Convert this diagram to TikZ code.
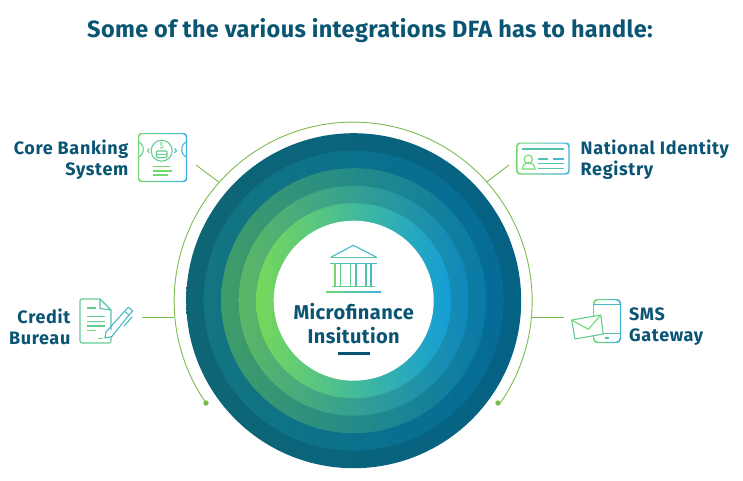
\documentclass[tikz,border=0pt]{standalone}
\usepackage{fontspec}
\setmainfont{Fira Sans}
\usepackage{xcolor}
\usetikzlibrary{positioning,calc}
\definecolor{textblue}{HTML}{0A5474}
\definecolor{arcgreen}{HTML}{7CBB4E}
\definecolor{icongreen}{HTML}{72D96E}
\definecolor{iconblue}{HTML}{3FB0DF}
\definecolor{ringal}{HTML}{0E6574}
\definecolor{ringar}{HTML}{046285}
\definecolor{ringbl}{HTML}{127580}
\definecolor{ringbr}{HTML}{056C98}
\definecolor{ringcl}{HTML}{409C68}
\definecolor{ringcr}{HTML}{097AA8}
\definecolor{ringdl}{HTML}{5CB766}
\definecolor{ringdr}{HTML}{0F88BC}
\definecolor{ringel}{HTML}{76D85A}
\definecolor{ringer}{HTML}{139DD8}

\begin{document}
\begin{tikzpicture}[x=1pt, y=-1pt]
  % Define styles
  \tikzstyle{ring} = [circle, inner sep=0pt, outer sep=0pt]
  \tikzstyle{label} = [font=\fontsize{18}{21}\selectfont\bfseries\addfontfeature{LetterSpace=3.6}, text=textblue, inner sep=0pt]
  \tikzstyle{connector} = [arcgreen, line width=0.9pt]
  \tikzstyle{frame} = [even odd rule, left color=icongreen, right color=iconblue]
  \tikzstyle{icona} = [color=icongreen, line width=1.1pt]
  \tikzstyle{iconb} = [color=iconblue!30!icongreen, line width=1.1pt]
  \tikzstyle{iconc} = [color=iconblue!55!icongreen, line width=1.1pt]
  \tikzstyle{icond} = [color=iconblue!80!icongreen, line width=1.1pt]
  \useasboundingbox (0,0) rectangle (743,480);

  % Title
  \node [anchor=base, font=\fontsize{23.5}{27}\selectfont\bfseries\addfontfeature{LetterSpace=1.5}, text=textblue, inner sep=0pt] (title) at (370,37.5) {Some of the various integrations DFA has to handle:};

  % Green arc with its end dots
  \coordinate (arcleft) at (206,403);
  \coordinate (arcright) at (498,403);
  \draw [connector] (arcleft) arc[start angle=214.7, end angle=-34.7, radius=179pt];
  \fill [arcgreen] (arcleft) circle[radius=2.7pt];
  \fill [arcgreen] (arcright) circle[radius=2.7pt];

  % Concentric rings
  \node [ring, minimum size=335pt, left color=ringal, right color=ringar] (ringa) at (353.7,300.7) {};
  \node [ring, minimum size=300pt, left color=ringbl, right color=ringbr] (ringb) at (ringa.center) {};
  \node [ring, minimum size=265pt, left color=ringcl, right color=ringcr] (ringc) at (ringa.center) {};
  \node [ring, minimum size=230pt, left color=ringdl, right color=ringdr] (ringd) at (ringa.center) {};
  \node [ring, minimum size=195pt, left color=ringel, right color=ringer] (ringe) at (ringa.center) {};
  \node [ring, minimum size=160pt, fill=white] (hub) at (ringa.center) {};

  % Centre text and bank
  \node [font=\fontsize{20}{24}\selectfont\bfseries\addfontfeature{LetterSpace=2}, text=textblue, align=center, inner sep=0pt] (institution) at (353.7,323.5) {Microfinance\\Insitution};
  \fill [textblue] (338,351.8) rectangle (370,354.8);
  \draw [icond, line join=miter] (330.7,257.3) -- (353.3,245.3) -- (376.7,257.3);
  \draw [iconc] (330.7,257.3) -- (376.7,257.3);
  \draw [icond] (330,263.3) -- (377,263.3);
  \foreach \colx/\colstyle in {335/icona,340.7/iconb,350.7/iconb,356/iconc,366/iconc,371/icond}
    \draw [\colstyle] (\colx,263.3) -- (\colx,286.7);
  \draw [iconb] (332,286.7) -- (375,286.7);
  \path [left color=icongreen, right color=iconblue] (326,291.2) rectangle (381,292.2);

  % Core Banking System
  \node [label, align=right, anchor=east] (core) at (128.5,160) {Core Banking\\System};
  \path [frame, rounded corners=3pt] (138,133) rectangle (187,182) (139.2,134.2) rectangle (185.8,180.8);
  \draw [iconb] (139,142) arc[start angle=60, end angle=-60, radius=8.7pt];
  \draw [icond] (186,142) arc[start angle=120, end angle=240, radius=8.7pt];
  \draw [iconb] (161.7,150.7) circle[radius=10.5pt];
  \draw [icona] (149.5,148.5) -- (147.5,150.7) -- (149.5,153);
  \draw [icond] (174.5,148.5) -- (176.5,150.7) -- (174.5,153);
  \node [font=\fontsize{8}{8}\selectfont, text=iconblue!30!icongreen, inner sep=0pt] (dollar) at (161.7,146) {\$};
  \draw [iconb, rounded corners=1pt] (156.5,151) rectangle (167,157.5);
  \draw [iconb] (156.5,154.2) -- (167,154.2);
  \draw [icona] (153,166.3) -- (170,166.3);
  \draw [icona] (153,171) -- (172,171);
  \draw [icona] (153,175) -- (168,175);
  \coordinate (corefree) at (196,165);
  \coordinate (corearc) at (218.5,181.8);
  \draw [connector] (corefree) -- (corearc);

  % National Identity Registry
  \node [label, align=left, anchor=west] (national) at (580.5,160) {National Identity\\Registry};
  \path [frame, rounded corners=3pt] (516.5,142.5) rectangle (569.5,174.5) (517.7,143.7) rectangle (568.3,173.3);
  \draw [iconc] (522,149) -- (564,149);
  \draw [icona] (528.3,159.3) circle[radius=4.2pt];
  \draw [icona] (522.3,169) arc[start angle=180, end angle=0, radius=6.3pt] -- cycle;
  \draw [iconc] (538.3,159) -- (548.3,159);
  \draw [icond] (552.7,159) -- (564,159);
  \draw [iconc] (538.3,163.7) -- (564,163.7);
  \draw [iconc] (538.3,168.7) -- (564,168.7);
  \coordinate (nationalfree) at (509,165);
  \coordinate (nationalarc) at (487,181.8);
  \draw [connector] (nationalfree) -- (nationalarc);

  % Credit Bureau
  \node [label, align=right, anchor=east] (credit) at (70.5,327) {Credit\\Bureau};
  \draw [iconb, rounded corners=2pt] (111,336) -- (111,343) -- (80,343) -- (80,299) -- (100,299);
  \draw [iconc, line join=round] (111,330) -- (111,310) -- (100,299) -- (100,308.5) -- (111,310);
  \draw [iconb] (87,308) -- (96,308);
  \foreach \liney in {316.7,321.3,326}
    \draw [iconb] (87,\liney) -- (105,\liney);
  \draw [icona] (87,330.7) -- (96,330.7);
  \draw [icona] (98,338.3) -- (103,338.3);
  \draw [icond, line join=round] (105,338) -- (106,332) -- (124.5,311.3) -- (128.3,307.3) -- (132.7,311) -- (129,315) -- (111.7,336.7) -- cycle;
  \draw [icond] (124.5,311.3) -- (129,315);
  \draw [icond] (132.3,316.7) -- (124,326);
  \coordinate (creditfree) at (142,317.3);
  \coordinate (creditarc) at (174,317.3);
  \draw [connector] (creditfree) -- (creditarc);

  % SMS Gateway
  \node [label, align=left, anchor=west] (sms) at (629,327) {SMS\\Gateway};
  \path [frame, rounded corners=4pt] (593,299) rectangle (621,343) (594.2,300.2) rectangle (619.8,341.8);
  \draw [icond] (593.5,304.3) -- (620.5,304.3);
  \draw [iconc] (593.5,333.3) -- (620.5,333.3);
  \draw [iconc] (604.7,338) -- (609.3,338);
  \draw [iconb, fill=white, line join=round] (571.7,320) -- (600.7,315) -- (603.3,334) -- (575,339) -- cycle;
  \draw [icona, line join=round] (571.7,320) -- (588.3,329.3) -- (600.7,315);
  \coordinate (smsarc) at (530.7,317.3);
  \coordinate (smsfree) at (564,317.3);
  \draw [connector] (smsarc) -- (smsfree);
\end{tikzpicture}
\end{document}
